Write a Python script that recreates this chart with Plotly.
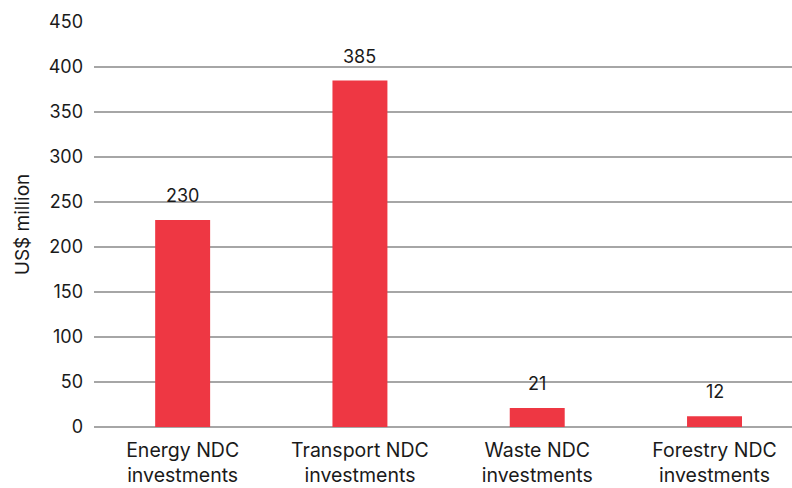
import plotly.graph_objects as go

# Investment by NDC sector
categories = ["Energy NDC<br>investments", "Transport NDC<br>investments",
              "Waste NDC<br>investments", "Forestry NDC<br>investments"]
values = [230, 385, 21, 12]
y_ticks = [0, 50, 100, 150, 200, 250, 300, 350, 400, 450]

FONT = "Inter"
TEXT = "#1a1a1a"
BAR = "#EE3743"
GRID = "#a6a6a6"

fig = go.Figure()
fig.add_trace(go.Bar(
    x=categories,
    y=values,
    marker=dict(color=BAR, line=dict(width=0)),
    width=0.31,
    hoverinfo="x+y",
))

# value labels above each bar
for c, v in zip(categories, values):
    fig.add_annotation(
        x=c, y=v, text=str(v), showarrow=False,
        yanchor="bottom", yshift=12,
        font=dict(family=FONT, size=18, color=TEXT),
    )

fig.update_layout(
    width=792, height=488,
    margin=dict(l=94, r=0, t=22, b=61),
    paper_bgcolor="white",
    plot_bgcolor="white",
    showlegend=False,
    font=dict(family=FONT, size=18, color=TEXT),
    xaxis=dict(
        type="category",
        range=[-0.5, 3.437],
        showgrid=False,
        showline=False,
        ticks="",
        automargin=False,
        ticklabelstandoff=9,
        tickfont=dict(family=FONT, size=19.5, color=TEXT),
    ),
    yaxis=dict(
        range=[0, 450],
        tickvals=y_ticks,
        showgrid=True,
        gridcolor=GRID,
        gridwidth=1.5,
        zeroline=True,
        zerolinecolor=GRID,
        zerolinewidth=1.5,
        showline=False,
        ticks="",
        automargin=False,
        ticklabelstandoff=10,
        tickfont=dict(family=FONT, size=18, color=TEXT),
        title=dict(text="US$ million", font=dict(family=FONT, size=19, color=TEXT), standoff=14),
    ),
)

fig.write_html("out.html")
